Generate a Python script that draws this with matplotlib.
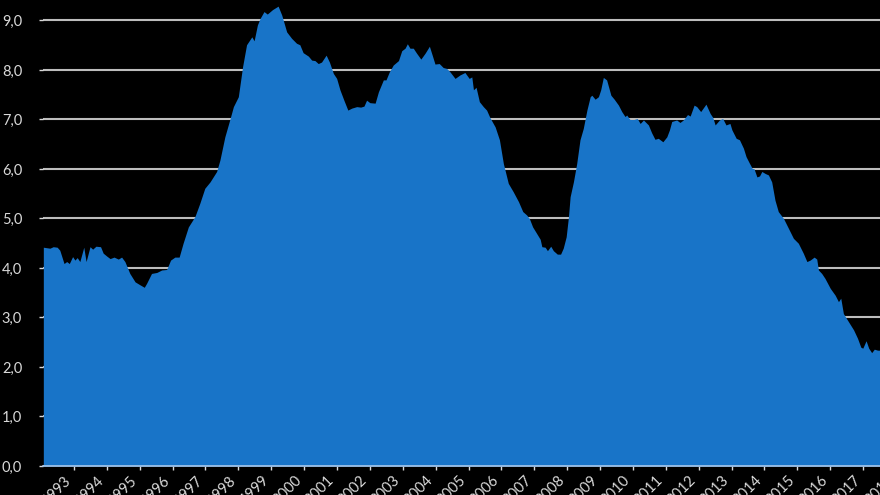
import matplotlib
matplotlib.use("Agg")
import matplotlib.pyplot as plt
from matplotlib.ticker import FuncFormatter

# decimal year / value pairs
years = [
    1992.07, 1992.27, 1992.37, 1992.49, 1992.57, 1992.70, 1992.78, 1992.86, 1992.96,
    1993.03, 1993.10, 1993.18, 1993.30, 1993.37, 1993.49, 1993.57, 1993.67, 1993.81,
    1993.89, 1994.00, 1994.10, 1994.22, 1994.35, 1994.45, 1994.55, 1994.70, 1994.86,
    1995.01, 1995.14, 1995.21, 1995.36, 1995.52, 1995.67, 1995.82, 1995.94, 1996.07,
    1996.20, 1996.32, 1996.48, 1996.68, 1996.83, 1996.98, 1997.14, 1997.34, 1997.44,
    1997.59, 1997.75, 1997.85, 1998.00, 1998.13, 1998.25, 1998.41, 1998.48, 1998.58,
    1998.66, 1998.78, 1998.88, 1999.04, 1999.21, 1999.32, 1999.47, 1999.62, 1999.77,
    1999.87, 1999.97, 2000.13, 2000.23, 2000.33, 2000.43, 2000.53, 2000.67, 2000.77,
    2000.89, 2000.99, 2001.09, 2001.21, 2001.33, 2001.45, 2001.60, 2001.72, 2001.82,
    2001.90, 2002.00, 2002.16, 2002.26, 2002.41, 2002.49, 2002.59, 2002.71, 2002.87,
    2002.97, 2003.07, 2003.14, 2003.22, 2003.32, 2003.42, 2003.55, 2003.68, 2003.81,
    2003.91, 2003.98, 2004.11, 2004.23, 2004.34, 2004.44, 2004.59, 2004.74, 2004.89,
    2005.02, 2005.10, 2005.15, 2005.23, 2005.33, 2005.45, 2005.55, 2005.65, 2005.81,
    2005.94, 2006.06, 2006.21, 2006.36, 2006.52, 2006.65, 2006.77, 2006.85, 2006.95,
    2007.07, 2007.18, 2007.23, 2007.33, 2007.40, 2007.50, 2007.58, 2007.70, 2007.80,
    2007.88, 2007.97, 2008.04, 2008.09, 2008.19, 2008.29, 2008.39, 2008.49, 2008.60,
    2008.70, 2008.75, 2008.85, 2008.95, 2009.02, 2009.10, 2009.20, 2009.33, 2009.43,
    2009.56, 2009.66, 2009.76, 2009.81, 2009.91, 2010.03, 2010.13, 2010.22, 2010.32,
    2010.47, 2010.57, 2010.67, 2010.77, 2010.91, 2011.03, 2011.11, 2011.18, 2011.33,
    2011.43, 2011.53, 2011.66, 2011.74, 2011.86, 2011.94, 2012.06, 2012.22, 2012.35,
    2012.43, 2012.50, 2012.63, 2012.73, 2012.83, 2012.95, 2013.01, 2013.14, 2013.24,
    2013.36, 2013.44, 2013.54, 2013.63, 2013.68, 2013.77, 2013.85, 2013.92, 2014.02,
    2014.12, 2014.22, 2014.32, 2014.42, 2014.58, 2014.73, 2014.88, 2015.03, 2015.18,
    2015.29, 2015.39, 2015.51, 2015.59, 2015.64, 2015.74, 2015.84, 2016.00, 2016.15,
    2016.25, 2016.32, 2016.40, 2016.55, 2016.71, 2016.83, 2016.93, 2016.99, 2017.09,
    2017.17, 2017.26, 2017.34, 2017.44, 2017.52,
]
values = [
    4.42, 4.40, 4.43, 4.42, 4.36, 4.09, 4.13, 4.09, 4.23,
    4.16, 4.21, 4.13, 4.42, 4.13, 4.43, 4.38, 4.44, 4.43,
    4.30, 4.24, 4.19, 4.22, 4.18, 4.22, 4.13, 3.89, 3.72,
    3.66, 3.61, 3.69, 3.89, 3.91, 3.96, 3.97, 4.16, 4.22,
    4.22, 4.50, 4.83, 5.04, 5.31, 5.61, 5.74, 5.95, 6.18,
    6.65, 7.02, 7.26, 7.46, 8.07, 8.51, 8.67, 8.59, 8.91,
    9.04, 9.18, 9.13, 9.22, 9.29, 9.11, 8.77, 8.64, 8.54,
    8.51, 8.35, 8.28, 8.20, 8.19, 8.13, 8.16, 8.30, 8.16,
    7.93, 7.83, 7.60, 7.39, 7.19, 7.23, 7.26, 7.25, 7.27,
    7.39, 7.34, 7.33, 7.56, 7.80, 7.80, 7.96, 8.10, 8.19,
    8.39, 8.44, 8.53, 8.44, 8.44, 8.34, 8.22, 8.34, 8.48,
    8.27, 8.12, 8.13, 8.05, 8.03, 7.96, 7.83, 7.90, 7.95,
    7.83, 7.86, 7.60, 7.65, 7.36, 7.26, 7.19, 7.04, 6.85,
    6.59, 6.11, 5.71, 5.54, 5.34, 5.14, 5.07, 5.00, 4.83,
    4.70, 4.58, 4.43, 4.42, 4.35, 4.44, 4.35, 4.28, 4.28,
    4.40, 4.63, 5.04, 5.44, 5.74, 6.11, 6.59, 6.82, 7.19,
    7.46, 7.49, 7.41, 7.46, 7.60, 7.85, 7.80, 7.49, 7.41,
    7.29, 7.16, 7.06, 7.09, 7.00, 7.00, 7.02, 6.92, 6.99,
    6.89, 6.73, 6.60, 6.62, 6.55, 6.65, 6.79, 6.96, 6.99,
    6.94, 6.99, 7.10, 7.07, 7.29, 7.26, 7.16, 7.31, 7.12,
    7.04, 6.89, 6.99, 7.02, 6.89, 6.92, 6.79, 6.62, 6.59,
    6.42, 6.25, 6.12, 6.01, 6.01, 5.84, 5.86, 5.95, 5.91,
    5.88, 5.74, 5.37, 5.14, 5.00, 4.80, 4.60, 4.50, 4.30,
    4.13, 4.16, 4.22, 4.18, 3.96, 3.89, 3.79, 3.59, 3.45,
    3.32, 3.39, 3.08, 2.92, 2.75, 2.58, 2.40, 2.38, 2.53,
    2.38, 2.29, 2.36, 2.34, 2.34,
]
tick_years = list(range(1993, 2019))
y_ticks = [0, 1, 2, 3, 4, 5, 6, 7, 8, 9]

plt.rcParams['font.family'] = ['Lato', 'DejaVu Sans']

fig = plt.figure(figsize=(8.8, 4.95), dpi=100)
fig.patch.set_facecolor('black')
# axes runs a little past the right edge so the 2018 label is cut like the original
ax = fig.add_axes([43 / 880, 29 / 495, 853 / 880, 466 / 495])
ax.set_facecolor('black')

ax.fill_between(years, values, 0, color='#1874c8', lw=0, zorder=2)

ax.set_xlim(1992.06, 2018.0)
ax.set_ylim(0, 9.414)

ax.set_yticks(y_ticks)
ax.yaxis.set_major_formatter(FuncFormatter(lambda v, p: ('%.1f' % v).replace('.', ',')))
ax.set_xticks(tick_years)
ax.set_xticklabels([str(y) for y in tick_years], rotation=45, ha='right', va='top')

ax.set_axisbelow(True)
ax.yaxis.grid(True, color='#bdbdbd', lw=1.5)
ax.xaxis.grid(False)

for s in ['top', 'right', 'left']:
    ax.spines[s].set_visible(False)
ax.spines['bottom'].set_color('#a9c9ec')
ax.spines['bottom'].set_linewidth(1.2)
ax.spines['bottom'].set_zorder(3)

ax.tick_params(axis='y', colors='#d9d9d9', length=3, width=1, pad=12, labelsize=10.5)
ax.tick_params(axis='x', colors='#d9d9d9', length=3, width=1, pad=2, labelsize=10.5)

fig.savefig('out.png', dpi=100, facecolor='black')
